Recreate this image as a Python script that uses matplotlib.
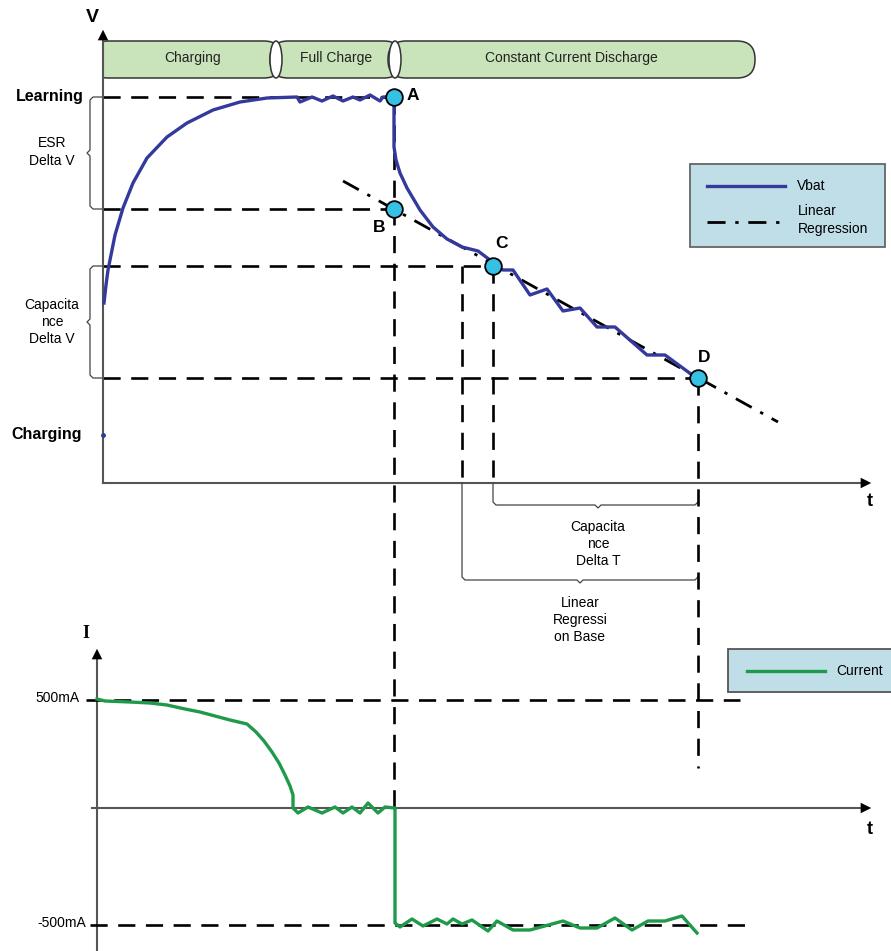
import matplotlib.pyplot as plt
from matplotlib.patches import FancyBboxPatch, Ellipse, Rectangle

plt.rcParams['font.family'] = ['Liberation Sans', 'DejaVu Sans']

# everything in pixel units (x = time, y = level, y grows downward)
vbat_t = [104, 106, 108, 111, 115, 123, 133, 147, 167, 187, 213, 240, 267, 297,
          300, 312, 322, 333, 343, 353, 360, 370, 380, 383, 394,
          394, 396, 400, 407, 420, 433, 447, 462, 478, 490, 495,
          503, 513, 530, 547, 563, 580, 597, 615, 647, 665, 695, 698]
vbat_v = [303, 285, 270, 255, 235, 208, 183, 158, 137, 123, 110, 102, 98, 97,
          102, 97, 101, 96, 101, 97, 100, 95, 101, 97, 97,
          147, 160, 173, 188, 210, 227, 239, 247, 251, 260, 266,
          270, 270, 295, 289, 311, 308, 327, 327, 355, 355, 377, 379]

cur_t = [97, 105, 130, 150, 167, 185, 200, 215, 230, 247, 256, 264, 272, 279, 285, 290,
         293, 293,
         298, 308, 322, 335, 343, 352, 360, 368, 378, 385, 395,
         395, 400, 412, 423, 437, 447, 453, 462, 472, 488, 497, 513, 530,
         563, 580, 597, 615, 632, 648, 665, 682, 697]
cur_i = [699, 701, 702, 703, 705, 709, 712, 716, 720, 724, 732, 741, 752, 763, 775, 786,
         795, 808,
         813, 807, 813, 807, 813, 807, 813, 803, 813, 807, 808,
         923, 927, 919, 926, 919, 924, 919, 924, 920, 931, 921, 930, 930,
         921, 928, 928, 918, 930, 921, 921, 916, 933]

regr_t = [343, 778]
regr_v = [181, 422]

pt_names = ['A', 'B', 'C', 'D']
pt_t = [394, 394, 493, 698]
pt_v = [97, 209, 266, 378]

phases = ['Charging', 'Full Charge', 'Constant Current Discharge']
phase_x0 = [90, 270, 388]
phase_x1 = [282, 402, 755]

BLUE = '#34399c'
GREEN = '#1f9a4a'
AXC = '#555555'
FS = 10

fig = plt.figure(figsize=(8.91, 9.51), dpi=100)
ax = fig.add_axes([0, 0, 1, 1])
ax.set_xlim(0, 891)
ax.set_ylim(951, 0)
ax.axis('off')

dash = dict(color='black', lw=1.9, dashes=(6.5, 4))
dashdot = dict(color='black', lw=2.0, dashes=(6.5, 3.5, 1.2, 3.5))
head = dict(arrowstyle='-|>', color='black', lw=0, mutation_scale=19)

# ---- top chart ----
ax.plot([103, 103], [483, 36], color=AXC, lw=1.5, zorder=4)
ax.plot([103, 864], [483, 483], color=AXC, lw=1.5)
ax.annotate('', xy=(103, 27), xytext=(103, 42), arrowprops=head, zorder=6)
ax.annotate('', xy=(874, 483), xytext=(859, 483), arrowprops=head, zorder=6)
ax.text(92, 17, 'V', fontsize=14, fontweight='bold', ha='center', va='center')
ax.text(870, 502, 't', fontsize=13, fontweight='bold', ha='center', va='center')

# phase bar
for name, x0, x1 in zip(phases, phase_x0, phase_x1):
    ax.add_patch(FancyBboxPatch((x0, 41), x1 - x0, 37,
                                boxstyle='round,pad=0,rounding_size=18',
                                fc='#c9e3bb', ec='#333333', lw=1.1, zorder=2))
    xc = (max(x0, 103) + x1) / 2
    ax.text(xc, 58, name, fontsize=FS, ha='center', va='center', zorder=4,
            color='#222222')
ax.add_patch(Rectangle((0, 39), 102.5, 42, fc='white', ec='none', zorder=3))
for xl in [276, 395]:
    ax.add_patch(Ellipse((xl, 59.5), 12, 37, fc='white', ec='#333333', lw=1.1, zorder=3))

# level lines
for t, v in zip(pt_t, pt_v):
    ax.plot([103, t], [v, v], **dash, zorder=3)
ax.plot([394, 394], [97, 808], **dash, zorder=3)
ax.plot([462, 462], [266, 483], **dash, zorder=3)
ax.plot([493, 493], [266, 483], **dash, zorder=3)
ax.plot([698, 698], [378, 768], **dash, zorder=3)

# regression and Vbat
ax.plot(regr_t, regr_v, **dashdot, zorder=4)
ax.plot(vbat_t, vbat_v, color=BLUE, lw=2.4, zorder=5)
ax.plot([103], [435], marker='o', ms=2.5, color=BLUE, zorder=5)
ax.plot(pt_t, pt_v, 'o', ms=12, mfc='#35c1e3', mec='black', mew=1.3, zorder=6)
lbl_pos = [(413, 96), (379, 228), (502, 243), (704, 357)]
for name, (x, y) in zip(pt_names, lbl_pos):
    ax.text(x, y, name, fontsize=12.5, fontweight='bold', ha='center', va='center')

ax.text(84, 97, 'Learning', fontsize=11.5, fontweight='bold', ha='right', va='center')
ax.text(82, 435, 'Charging', fontsize=11.5, fontweight='bold', ha='right', va='center')

# left braces
br = dict(color='#444444', lw=0.9)
for y0, y1 in [(97, 209), (266, 378)]:
    ym = (y0 + y1) / 2
    ax.plot([103, 93, 90, 90, 87, 90, 90, 93, 103],
            [y0, y0, y0 + 3, ym - 3, ym, ym + 3, y1 - 3, y1, y1], **br, zorder=2)
ax.text(52, 152, 'ESR\nDelta V', fontsize=FS, ha='center', va='center', linespacing=1.3)
ax.text(52, 322, 'Capacita\nnce\nDelta V', fontsize=FS, ha='center', va='center',
        linespacing=1.3)

# bottom braces
for x0, yb, xm in [(493, 505, 598), (462, 580, 580)]:
    ax.plot([x0, x0, x0 + 3, xm - 3, xm, xm + 3, 695, 698],
            [483, yb - 3, yb, yb, yb + 3, yb, yb, yb - 3], **br, zorder=2)
ax.text(598, 544, 'Capacita\nnce\nDelta T', fontsize=FS, ha='center', va='center',
        linespacing=1.3)
ax.text(580, 620, 'Linear\nRegressi\non Base', fontsize=FS, ha='center', va='center',
        linespacing=1.3)

# legend top
ax.add_patch(Rectangle((690, 164), 195, 83, fc='#c0dee8', ec='#666666', lw=1.3, zorder=2))
ax.plot([707, 785], [186, 186], color=BLUE, lw=2.4, zorder=3)
ax.text(797, 186, 'Vbat', fontsize=FS, va='center', zorder=3)
ax.plot([707, 785], [222, 222], **dashdot, zorder=3)
ax.text(798, 220, 'Linear\nRegression', fontsize=FS, va='center', zorder=3,
        linespacing=1.3)

# ---- bottom chart ----
ax.plot([97, 97], [951, 656], color=AXC, lw=1.5)
ax.plot([92, 864], [808, 808], color=AXC, lw=1.5)
ax.annotate('', xy=(97, 646), xytext=(97, 661), arrowprops=head, zorder=6)
ax.annotate('', xy=(874, 808), xytext=(859, 808), arrowprops=head, zorder=6)
ax.text(86, 633, 'I', fontsize=13, fontweight='bold', ha='center', va='center',
        family='Liberation Serif')
ax.text(870, 829, 't', fontsize=13, fontweight='bold', ha='center', va='center')

ax.plot([86, 740], [700, 700], **dash, zorder=3)
ax.plot([90, 745], [925, 925], **dash, zorder=3)
ax.text(80, 698, '500mA', fontsize=FS, ha='right', va='center')
ax.text(86, 923, '-500mA', fontsize=FS, ha='right', va='center')

ax.plot(cur_t, cur_i, color=GREEN, lw=2.4, zorder=5)

ax.add_patch(Rectangle((728, 649), 170, 43, fc='#c0dee8', ec='#555555', lw=1.3, zorder=2))
ax.plot([747, 825], [671, 671], color=GREEN, lw=2.4, zorder=3)
ax.text(836, 671, 'Current', fontsize=FS, va='center', zorder=3)

fig.savefig('out.png', dpi=100)
